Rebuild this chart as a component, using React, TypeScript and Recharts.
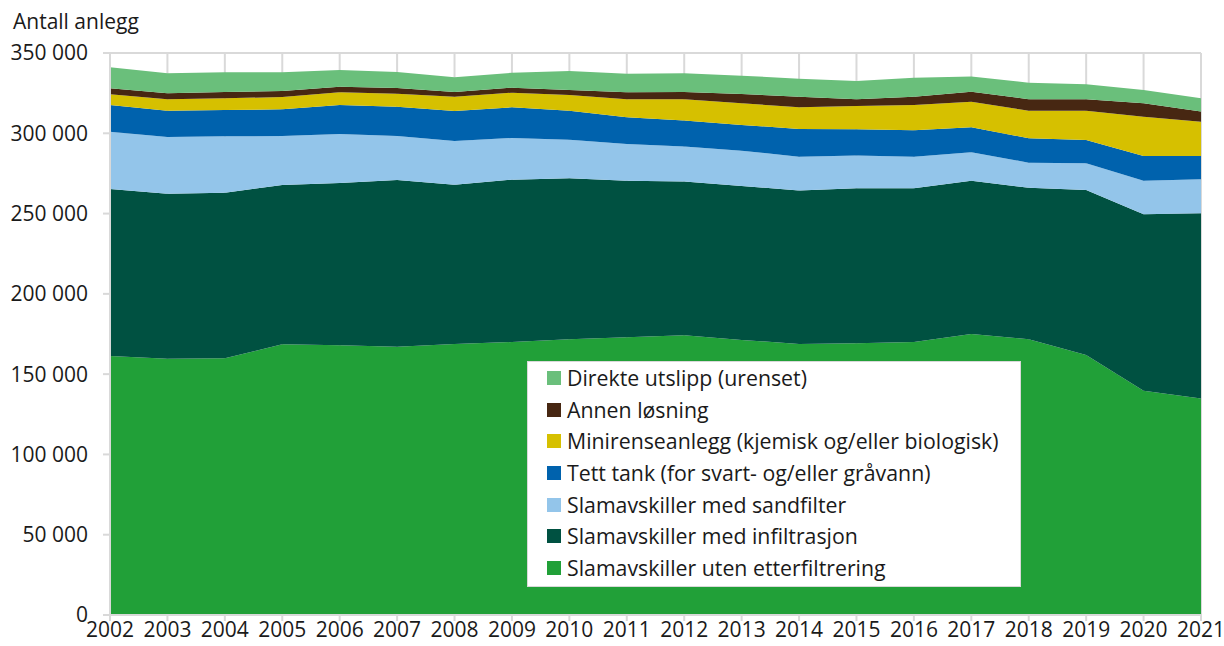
import { Area, AreaChart, CartesianGrid, XAxis, YAxis } from 'recharts';

const years = [
  '2002', '2003', '2004', '2005', '2006', '2007', '2008', '2009', '2010', '2011',
  '2012', '2013', '2014', '2015', '2016', '2017', '2018', '2019', '2020', '2021',
];

// Antall anlegg per type, lest av figuren
const utenEtterfiltrering = [
  161300, 159600, 159900, 168600, 168000, 167100, 168800, 170000, 171700, 173000,
  174200, 171300, 168800, 169200, 170000, 175000, 171700, 161900, 139700, 134900,
];
const medInfiltrasjon = [
  104000, 102800, 103100, 99200, 101000, 103800, 99200, 101100, 100300, 97500,
  95700, 95900, 95500, 96500, 95700, 95500, 94400, 102800, 109800, 115300,
];
const medSandfilter = [
  35700, 35300, 35100, 30500, 30600, 27400, 27200, 26000, 24000, 22800,
  21800, 22000, 21100, 20400, 19700, 17700, 15600, 16600, 21000, 21100,
];
const tettTank = [
  16600, 16400, 16400, 16600, 18000, 18300, 18700, 19100, 18100, 16700,
  16200, 16000, 17300, 16400, 16500, 15500, 15200, 14500, 15400, 14600,
];
const minirenseanlegg = [
  6700, 7100, 7300, 7700, 7900, 8100, 8900, 9100, 9800, 11200,
  13300, 13500, 13500, 14500, 15700, 16000, 17200, 18300, 24400, 21300,
];
const annenLosning = [
  3700, 3700, 3900, 3700, 3500, 3500, 2900, 3100, 3100, 4300,
  4500, 5800, 6600, 4200, 5200, 6200, 7100, 7100, 8400, 6300,
];
const direkteUtslipp = [
  13100, 12500, 12300, 11700, 10400, 10000, 9200, 9300, 11800, 11600,
  11700, 11400, 11200, 11400, 11800, 9400, 10300, 9300, 8300, 8300,
];

const yTicks = [0, 50000, 100000, 150000, 200000, 250000, 300000, 350000];

const series = [
  { key: 'uten', name: 'Slamavskiller uten etterfiltrering', color: '#21a038', values: utenEtterfiltrering },
  { key: 'infiltrasjon', name: 'Slamavskiller med infiltrasjon', color: '#005141', values: medInfiltrasjon },
  { key: 'sandfilter', name: 'Slamavskiller med sandfilter', color: '#93c5ea', values: medSandfilter },
  { key: 'tank', name: 'Tett tank (for svart- og/eller gråvann)', color: '#0062ad', values: tettTank },
  { key: 'mini', name: 'Minirenseanlegg (kjemisk og/eller biologisk)', color: '#d6c000', values: minirenseanlegg },
  { key: 'annen', name: 'Annen løsning', color: '#472712', values: annenLosning },
  { key: 'direkte', name: 'Direkte utslipp (urenset)', color: '#6abf7b', values: direkteUtslipp },
];

const data = years.map((year, i) => {
  const row: Record<string, string | number> = { year };
  series.forEach((s) => {
    row[s.key] = s.values[i];
  });
  return row;
});

const fmt = (v: number) => (v === 0 ? '0' : v.toLocaleString('en-US').replace(/,/g, ' '));

const font = '"Open Sans", sans-serif';
const textColor = '#1a1a1a';

// legend drawn on top of the plot, newest layer first like the original
function LegendBox() {
  return (
    <div
      style={{
        position: 'absolute',
        left: 527,
        top: 361,
        width: 473,
        height: 222,
        padding: '0 0 2px 19px',
        background: '#fff',
        border: '1px solid #d9d9d9',
      }}
    >
      {[...series].reverse().map((s) => (
        <div key={s.key} style={{ display: 'flex', alignItems: 'center', height: 31.7 }}>
          <span style={{ width: 14, height: 14, background: s.color, marginRight: 6, flexShrink: 0 }} />
          <span style={{ fontSize: 21.3, lineHeight: '24px', color: textColor, whiteSpace: 'nowrap' }}>{s.name}</span>
        </div>
      ))}
    </div>
  );
}

export default function App() {
  return (
    <div style={{ position: 'absolute', left: 0, top: 0, width: 1224, height: 646, fontFamily: font, background: '#fff' }}>
      <div style={{ position: 'absolute', left: 13, top: 7, fontSize: 21, lineHeight: '28px', color: textColor }}>
        Antall anlegg
      </div>
      <AreaChart width={1224} height={646} data={data} margin={{ top: 53, right: 23, bottom: 0, left: 8 }}>
        <CartesianGrid stroke="#d9d9d9" strokeWidth={2} />
        <XAxis
          dataKey="year"
          height={31}
          tickSize={6}
          tickMargin={1}
          interval={0}
          stroke="#d9d9d9"
          strokeWidth={2}
          tick={{ fill: textColor, fontSize: 21, fontFamily: font }}
        />
        <YAxis
          width={102}
          domain={[0, 350000]}
          ticks={yTicks}
          tickFormatter={fmt}
          tickSize={7}
          tickMargin={15}
          stroke="#d9d9d9"
          strokeWidth={2}
          tick={{ fill: textColor, fontSize: 21, fontFamily: font }}
        />
        {series.map((s) => (
          <Area
            key={s.key}
            dataKey={s.key}
            name={s.name}
            stackId="1"
            type="linear"
            stroke="none"
            fill={s.color}
            fillOpacity={1}
            isAnimationActive={false}
          />
        ))}
      </AreaChart>
      <LegendBox />
    </div>
  );
}
